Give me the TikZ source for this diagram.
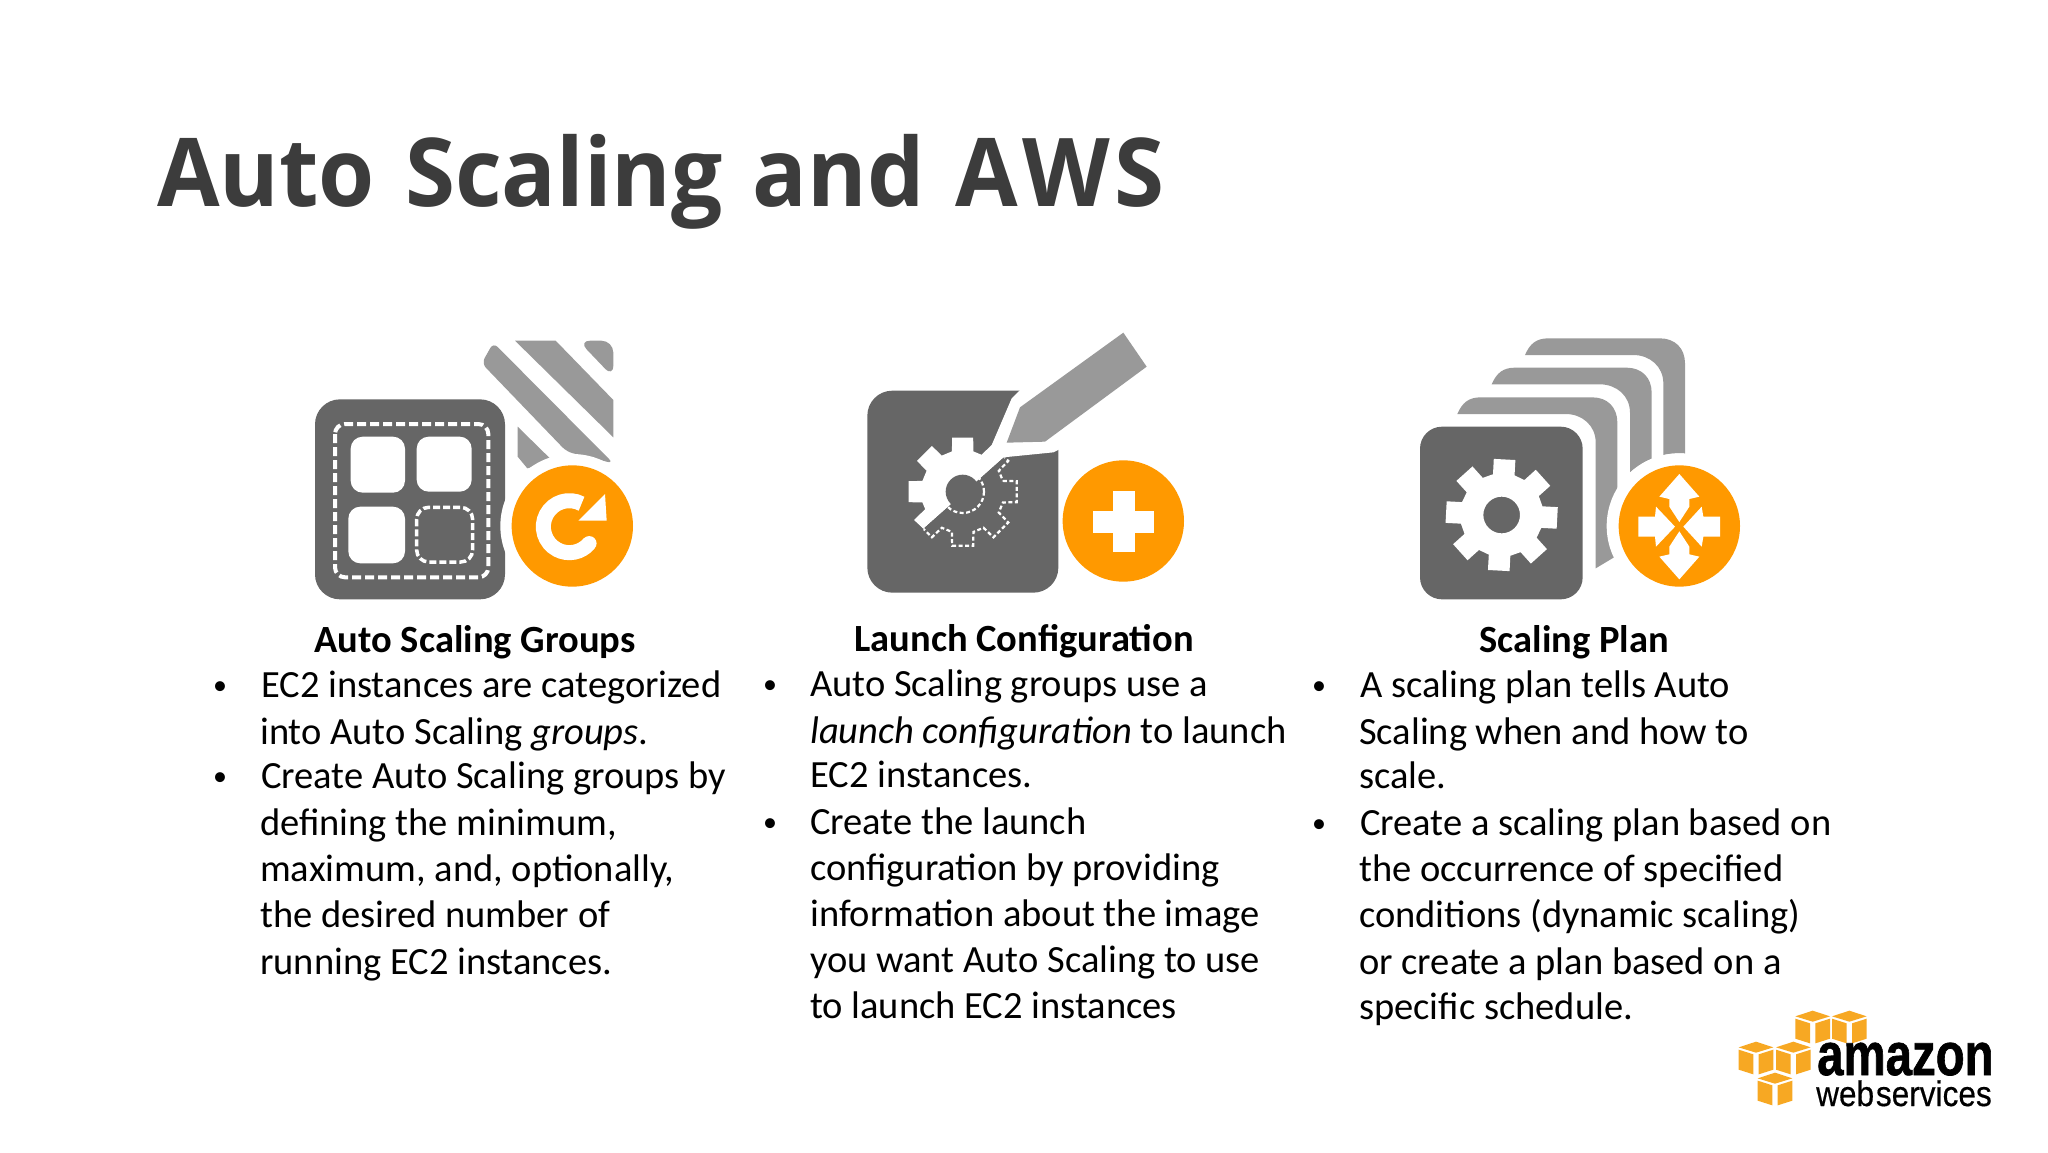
\documentclass[tikz,border=0pt]{standalone}
\usepackage{fontspec}
\setmainfont{Carlito}
\newfontfamily\titlefont{Open Sans}
\newfontfamily\logofont{Liberation Sans}
\newfontfamily\logoheavy[BoldFeatures={FakeBold=1.2}]{Liberation Sans}
\newfontfamily\logomedium[FakeBold=0.4]{Liberation Sans}
\definecolor{darkgrey}{HTML}{666666}
\definecolor{midgrey}{HTML}{999999}
\definecolor{awsorange}{HTML}{FF9900}
\definecolor{cubeorange}{HTML}{F7A823}
\definecolor{titlegrey}{HTML}{3C3C3C}
\newcommand{\gearshape}[3]{% ro ri rot
  (#3-15:#2) -- (#3-11:#1) -- (#3+11:#1) -- (#3+15:#2)
  -- (#3+45-15:#2) -- (#3+45-11:#1) -- (#3+45+11:#1) -- (#3+45+15:#2)
  -- (#3+90-15:#2) -- (#3+90-11:#1) -- (#3+90+11:#1) -- (#3+90+15:#2)
  -- (#3+135-15:#2) -- (#3+135-11:#1) -- (#3+135+11:#1) -- (#3+135+15:#2)
  -- (#3+180-15:#2) -- (#3+180-11:#1) -- (#3+180+11:#1) -- (#3+180+15:#2)
  -- (#3+225-15:#2) -- (#3+225-11:#1) -- (#3+225+11:#1) -- (#3+225+15:#2)
  -- (#3+270-15:#2) -- (#3+270-11:#1) -- (#3+270+11:#1) -- (#3+270+15:#2)
  -- (#3+315-15:#2) -- (#3+315-11:#1) -- (#3+315+11:#1) -- (#3+315+15:#2) -- cycle}
\newcommand{\awscube}[2]{%
  \begin{scope}[shift={(#1,#2)}]
    \fill[cubeorange] (-52,17) -- (0,0) -- (52,17) -- (0,33) -- cycle;
    \fill[cubeorange] (-52,24) -- (-8,38) -- (-8,98) -- (-52,84) -- cycle;
    \fill[cubeorange] (8,38) -- (52,24) -- (52,84) -- (8,98) -- cycle;
  \end{scope}}
\newcommand{\planlayer}[4]{% dx dy outer-bottom inner-bottom
  \fill[midgrey,shift={(#1,#2)}] (375,105) .. controls (390,70) and (410,55) .. (445,55) -- (780,55)
    .. controls (825,55) and (855,85) .. (855,130) -- (855,#3) -- (790,#4) -- (790,190)
    .. controls (790,140) and (750,105) .. (700,105) -- cycle;}
\tikzset{
  bodyline/.style={anchor=base west,inner sep=0pt,font=\fontsize{38.5}{42}\selectfont,text=black},
  headline/.style={anchor=base,inner sep=0pt,font=\fontsize{38.5}{42}\selectfont\bfseries,text=black},
  bulletmark/.style={anchor=base,inner sep=0pt,font=\fontsize{28}{32}\selectfont,text=black},
  iconone/.style={shift={(290,320)},x=0.33333pt,y=-0.33333pt},
  icontwo/.style={shift={(840,320)},x=0.33333pt,y=-0.33333pt},
  iconthree/.style={shift={(1400,320)},x=0.33333pt,y=-0.33333pt},
  logoscope/.style={shift={(1720,990)},x=0.33333pt,y=-0.33333pt},
  whitedash/.style={draw=white,line width=4pt,dash pattern=on 9pt off 4pt,rounded corners=10pt},
  finedash/.style={draw=white,line width=2.2pt,dash pattern=on 4pt off 2.5pt},
}
\begin{document}
\begin{tikzpicture}[x=1pt,y=-1pt]
\useasboundingbox (0,0) rectangle (2048,1152);
\fill[white] (0,0) rectangle (2048,1152);
\node[anchor=base west,inner sep=0pt,text=titlegrey,xscale=0.955,transform shape,font=\titlefont\fontsize{95}{100}\selectfont\bfseries] (title) at (157,206) {Auto\hspace{7pt} Scaling\hspace{7pt} and\hspace{7pt} A\kern5pt W\kern5pt S};

% ---------- icon 1
\begin{scope}[iconone]
  \fill[midgrey,rounded corners=6pt] (610,68) -- (970,430) -- (830,395) -- (575,130) -- cycle;
  \fill[midgrey] (675,62) -- (797,62) -- (970,240) -- (970,352) -- cycle;
  \fill[midgrey,rounded corners=12pt] (865,62) -- (970,62) -- (970,172) -- cycle;
  \fill[midgrey] (683,320) -- (790,425) -- (712,445) -- (683,410) -- cycle;
  \fill[darkgrey,rounded corners=25pt] (75,238) rectangle (645,838);
  \fill[white] (847,618) circle[radius=216];
  \fill[awsorange] (847,618) circle[radius=182];
  \draw[whitedash] (135,312) rectangle (595,772);
  \fill[white,rounded corners=12pt] (182,350) rectangle (345,518);
  \fill[white,rounded corners=12pt] (380,350) rectangle (545,515);
  \fill[white,rounded corners=12pt] (175,560) rectangle (345,730);
  \draw[white,line width=3.5pt,dash pattern=on 7pt off 3pt,rounded corners=12pt] (380,562) rectangle (548,726);
  \draw[white,line width=15pt] (838,620) ++(-62:78) arc[start angle=-62,end angle=-320,radius=78];
  \fill[white] (838,620) ++(40:78) circle[radius=22];
  \fill[white] (945,522) -- (950,602) -- (865,602) -- cycle;
\end{scope}

% ---------- icon 2
\begin{scope}[icontwo]
  \fill[darkgrey,rounded corners=25pt] (82,212) rectangle (655,818);
  \fill[white] (545,205) -- (665,205) -- (665,385) -- (640,397) -- (490,412) -- (250,625) -- (222,600) -- (455,375) -- (515,235) -- cycle;
  \fill[midgrey] (850,38) -- (920,140) -- (615,365) -- (500,368) -- (540,262) -- cycle;
  \begin{scope}
    \clip (490,412) -- (250,625) -- (100,625) -- (100,300) -- (490,300) -- cycle;
    \fill[white,shift={(368,515)}] \gearshape{165}{125}{0};
  \end{scope}
  \begin{scope}
    \clip (490,412) -- (250,625) -- (250,720) -- (600,720) -- (600,412) -- cycle;
    \draw[finedash,shift={(368,515)}] \gearshape{165}{125}{0};
    \draw[finedash] (368,515) circle[radius=64];
  \end{scope}
  \fill[darkgrey] (368,515) circle[radius=51];
  \fill[awsorange] (850,603) circle[radius=182];
  \fill[white] (760,572) rectangle (943,638);
  \fill[white] (820,513) rectangle (885,695);
\end{scope}

% ---------- icon 3
\begin{scope}[iconthree]
  \planlayer{0}{0}{460}{460}
  \planlayer{-100}{88}{400}{400}
  \fill[white] (838,618) circle[radius=218];
  \planlayer{-203}{177}{529}{568}
  \fill[white] (838,618) circle[radius=218];
  \fill[darkgrey,rounded corners=22pt] (60,320) rectangle (548,838);
  \fill[white,shift={(305,585)},even odd rule] \gearshape{170}{125}{3} (0,0) circle[radius=55];
  \fill[awsorange] (838,618) circle[radius=182];
  \fill[white] (838,462) -- (898,530) -- (868,537) -- (868,560) -- (838,606) -- (808,560) -- (808,537) -- (778,530) -- cycle;
  \fill[white] (838,778) -- (898,710) -- (868,703) -- (868,680) -- (838,634) -- (808,680) -- (808,703) -- (778,710) -- cycle;
  \fill[white] (715,590) -- (765,590) -- (768,560) -- (825,620) -- (768,680) -- (765,650) -- (715,650) -- cycle;
  \fill[white] (960,590) -- (910,590) -- (905,560) -- (850,620) -- (905,680) -- (910,650) -- (960,650) -- cycle;
\end{scope}

\begin{scope}[yshift=-1pt]
% ---------- column 1
\node[headline] (h1) at (475,651) {Auto Scaling Groups};
\node[bulletmark] (b11) at (220,693) {•};
\node[bodyline] (a1) at (261,696) {EC2 instances are categorized};
\node[bodyline] (a2) at (260,743) {into Auto Scaling \textit{groups}.};
\node[bulletmark] (b12) at (220,784) {•};
\node[bodyline] (a3) at (261,787) {Create Auto Scaling groups by};
\node[bodyline] (a4) at (260,834) {defining the minimum,};
\node[bodyline] (a5) at (260,880) {maximum, and, optionally,};
\node[bodyline] (a6) at (260,926) {the desired number of};
\node[bodyline] (a7) at (260,973) {running EC2 instances.};

% ---------- column 2
\node[headline] (h2) at (1024,650) {Launch Configuration};
\node[bulletmark] (b21) at (770,692) {•};
\node[bodyline] (c1) at (810,695) {Auto Scaling groups use a};
\node[bodyline] (c2) at (810,742) {\textit{launch configuration} to launch};
\node[bodyline] (c3) at (810,786) {EC2 instances.};
\node[bulletmark] (b22) at (770,830) {•};
\node[bodyline] (c4) at (810,833) {Create the launch};
\node[bodyline] (c5) at (810,879) {configuration by providing};
\node[bodyline] (c6) at (810,925) {information about the image};
\node[bodyline] (c7) at (810,971) {you want Auto Scaling to use};
\node[bodyline] (c8) at (810,1017) {to launch EC2 instances};

% ---------- column 3
\node[headline] (h3) at (1574,651) {Scaling Plan};
\node[bulletmark] (b31) at (1319,693) {•};
\node[bodyline] (d1) at (1360,696) {A scaling plan tells Auto};
\node[bodyline] (d2) at (1359,743) {Scaling when and how to};
\node[bodyline] (d3) at (1359,787) {scale.};
\node[bulletmark] (b32) at (1319,831) {•};
\node[bodyline] (d4) at (1360,834) {Create a scaling plan based on};
\node[bodyline] (d5) at (1359,880) {the occurrence of specified};
\node[bodyline] (d6) at (1359,926) {conditions (dynamic scaling)};
\node[bodyline] (d7) at (1359,973) {or create a plan based on a};
\node[bodyline] (d8) at (1359,1018) {specific schedule.};
\end{scope}

% ---------- logo
\begin{scope}[logoscope]
  \awscube{278}{62}
  \awscube{388}{62}
  \awscube{108}{155}
  \awscube{220}{155}
  \awscube{165}{248}
\end{scope}
\node[anchor=base west,inner sep=0pt,xscale=0.79,transform shape,font=\logoheavy\fontsize{60}{60}\selectfont\bfseries] (amazon) at (1817,1075) {amazon};
\node[anchor=base west,inner sep=0pt,xscale=0.89,transform shape,font=\logomedium\fontsize{35.5}{35}\selectfont] (webservices) at (1816,1106) {\spaceskip=2pt\relax web services};
\end{tikzpicture}
\end{document}
